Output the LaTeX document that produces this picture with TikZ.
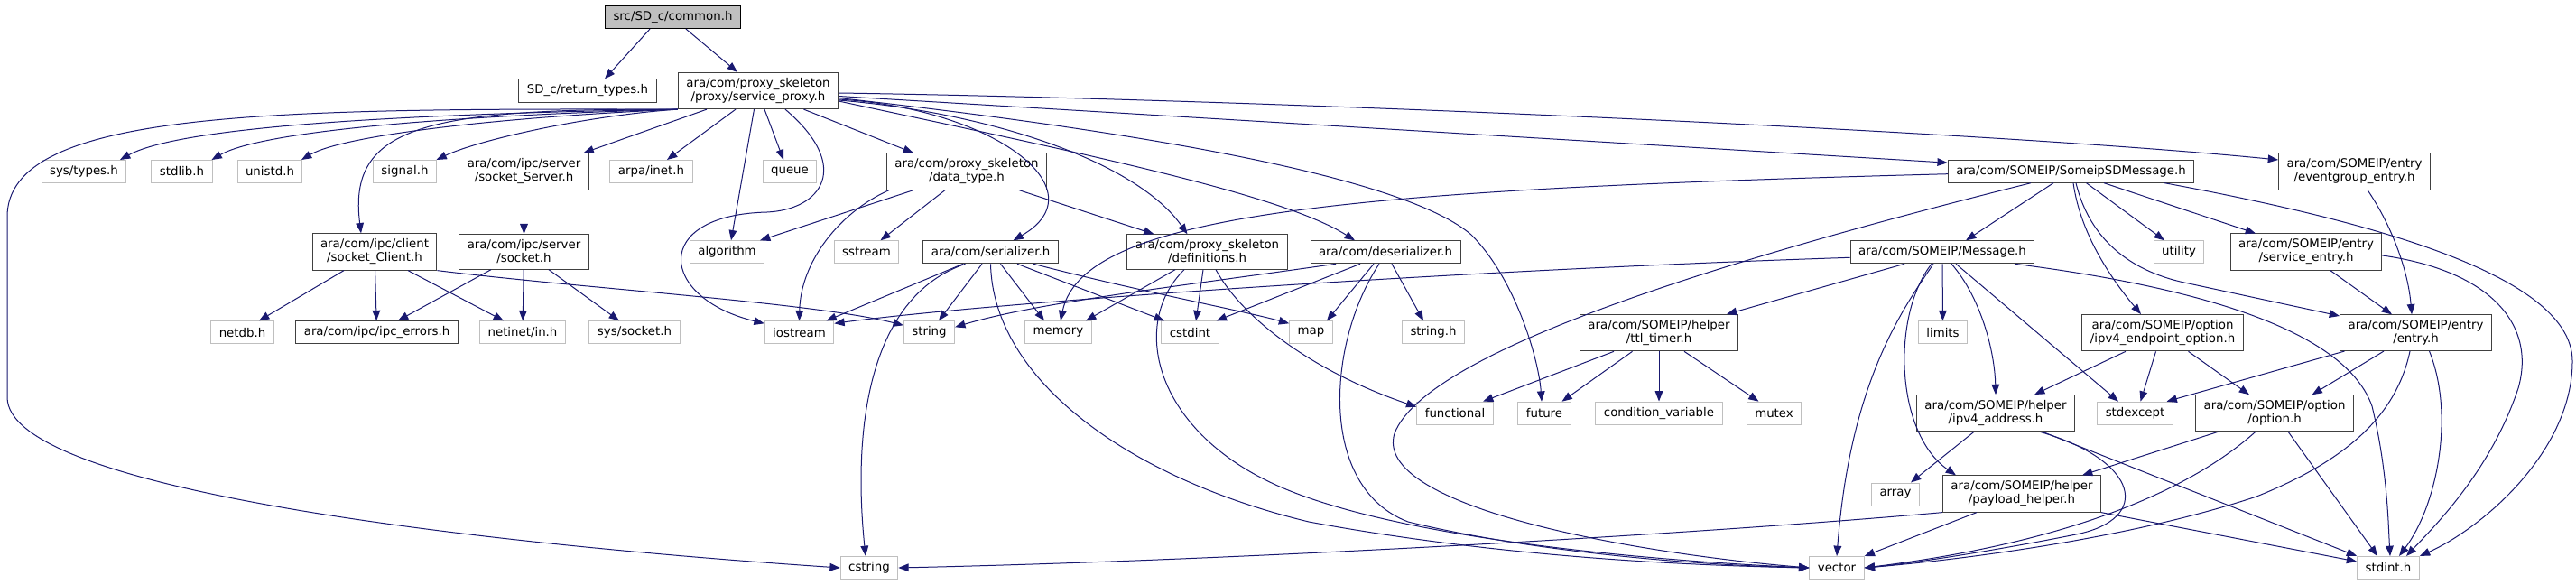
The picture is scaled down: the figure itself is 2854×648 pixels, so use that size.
\documentclass[tikz,border=0pt]{standalone}
\usepackage{fontspec}
\setmainfont{DejaVu Sans}
\usetikzlibrary{calc,arrows.meta}
\definecolor{edgeblue}{HTML}{191970}
\definecolor{docframe}{HTML}{404040}
\definecolor{sysgray}{HTML}{BFBFBF}

\begin{document}
\begin{tikzpicture}[x=0.75pt,y=-0.75pt,
  hdr/.style={draw=docframe, fill=white, line width=0.75pt, align=center,
    inner xsep=6.75pt, inner ysep=4.5pt, minimum height=18.75pt,
    font=\fontsize{10}{11.25}\selectfont},
  sys/.style={hdr, draw=sysgray},
  root/.style={hdr, fill=sysgray, draw=black},
  dep/.style={draw=edgeblue, line width=0.75pt, -{Triangle[length=8.5pt,width=6.5pt]}}]
  \useasboundingbox (0,0) rectangle (2854,648);

  % Row 0 and 1
  \node[root] (common) at (745.5,19) {src/SD\_c/common.h};
  \node[hdr] (rettypes) at (651,100.5) {SD\_c/return\_types.h};
  \node[hdr] (proxy) at (840,100.5) {ara/com/proxy\_skeleton\\/proxy/service\_proxy.h};

  % Row 2
  \node[sys] (systypes) at (93,190) {sys/types.h};
  \node[sys] (stdlib) at (201.5,190) {stdlib.h};
  \node[sys] (unistd) at (299,190) {unistd.h};
  \node[sys] (signal) at (448.5,190) {signal.h};
  \node[hdr] (sockserver) at (580.5,190) {ara/com/ipc/server\\/socket\_Server.h};
  \node[sys] (arpainet) at (721.5,190) {arpa/inet.h};
  \node[sys] (queue) at (875,190) {queue};
  \node[hdr] (datatype) at (1071,190) {ara/com/proxy\_skeleton\\/data\_type.h};
  \node[hdr] (someipsd) at (2294.5,189.7) {ara/com/SOMEIP/SomeipSDMessage.h};
  \node[hdr] (eventgroup) at (2608.5,190) {ara/com/SOMEIP/entry\\/eventgroup\_entry.h};

  % Row 3
  \node[hdr] (sockclient) at (415,279) {ara/com/ipc/client\\/socket\_Client.h};
  \node[hdr] (socket) at (580.5,279) {ara/com/ipc/server\\/socket.h};
  \node[sys] (algorithm) at (805.5,279.3) {algorithm};
  \node[sys] (sstream) at (960,279.3) {sstream};
  \node[hdr] (serializer) at (1097.5,279.3) {ara/com/serializer.h};
  \node[hdr] (definitions) at (1337.5,279) {ara/com/proxy\_skeleton\\/definitions.h};
  \node[hdr] (deserializer) at (1535,279.3) {ara/com/deserializer.h};
  \node[hdr] (message) at (2152,279.3) {ara/com/SOMEIP/Message.h};
  \node[sys] (utility) at (2414,279.3) {utility};
  \node[hdr] (serviceentry) at (2555,279) {ara/com/SOMEIP/entry\\/service\_entry.h};

  % Row 4
  \node[sys] (netdb) at (268.5,368.3) {netdb.h};
  \node[hdr] (ipcerrors) at (417.5,368.3) {ara/com/ipc/ipc\_errors.h};
  \node[sys] (netinet) at (579,368.3) {netinet/in.h};
  \node[sys] (syssocket) at (703,368.3) {sys/socket.h};
  \node[sys] (iostream) at (885.5,368.3) {iostream};
  \node[sys] (string) at (1029.5,368.3) {string};
  \node[sys] (memory) at (1172.5,368.3) {memory};
  \node[sys] (cstdint) at (1318.5,368.3) {cstdint};
  \node[sys] (map) at (1452.5,368.3) {map};
  \node[sys] (stringh) at (1588,368.3) {string.h};
  \node[hdr] (ttltimer) at (1838,368.7) {ara/com/SOMEIP/helper\\/ttl\_timer.h};
  \node[sys] (limits) at (2152.5,368.3) {limits};
  \node[hdr] (ipv4ep) at (2396,368.7) {ara/com/SOMEIP/option\\/ipv4\_endpoint\_option.h};
  \node[hdr] (entry) at (2676.5,368.7) {ara/com/SOMEIP/entry\\/entry.h};

  % Row 5
  \node[sys] (functional) at (1612,457.7) {functional};
  \node[sys] (future) at (1711,457.7) {future};
  \node[sys] (condvar) at (1838,457.7) {condition\_variable};
  \node[sys] (mutex) at (1965.5,457.7) {mutex};
  \node[hdr] (ipv4addr) at (2211,457.7) {ara/com/SOMEIP/helper\\/ipv4\_address.h};
  \node[sys] (stdexcept) at (2365.5,457.7) {stdexcept};
  \node[hdr] (option) at (2520,457.7) {ara/com/SOMEIP/option\\/option.h};

  % Row 6 and 7
  \node[sys] (array) at (2100,547.5) {array};
  \node[hdr] (payload) at (2240,547) {ara/com/SOMEIP/helper\\/payload\_helper.h};
  \node[sys] (cstring) at (963,629) {cstring};
  \node[sys] (vector) at (2035,629) {vector};
  \node[sys] (stdint) at (2646,629) {stdint.h};

  % common.h
  \draw[dep] ($(common.south)+(-25.5,0)$) -- ($(rettypes.north)+(19,0)$);
  \draw[dep] ($(common.south)+(14.5,0)$) -- ($(proxy.north)+(-23,0)$);

  % service_proxy.h, to the left
  \draw[dep] (proxy.south west) .. controls (300,120) and (8,122) .. (8,240) -- (8,440) .. controls (8,540) and (500,600) .. (cstring.west);
  \draw[dep] (proxy.south west) .. controls (450,126) and (200,140) .. ($(systypes.north)+(40,0)$);
  \draw[dep] (proxy.south west) .. controls (500,128) and (290,145) .. ($(stdlib.north)+(33,0)$);
  \draw[dep] (proxy.south west) .. controls (550,130) and (380,150) .. ($(unistd.north)+(35,0)$);
  \draw[dep] (proxy.south west) .. controls (470,120) and (385,140) .. ($(sockclient.north)+(-15,0)$);
  \draw[dep] (proxy.south west) .. controls (650,128) and (530,155) .. ($(signal.north)+(35,0)$);
  \draw[dep] ($(proxy.south)+(-57,0)$) -- ($(sockserver.north)+(66,0)$);
  \draw[dep] ($(proxy.south)+(-25,0)$) -- ($(arpainet.north)+(17.5,0)$);
  \draw[dep] ($(proxy.south)+(7,0)$) -- ($(queue.north)+(-7,0)$);
  \draw[dep] ($(proxy.south)+(-4.5,0)$) -- ($(algorithm.north)+(4.5,0)$);
  \draw[dep] ($(proxy.south)+(30,0)$) .. controls (945,185) and (910,232) .. (850,235) .. controls (720,238) and (730,330) .. ($(iostream.north west)+(0,3)$);
  \draw[dep] ($(proxy.south)+(50.5,0)$) -- ($(datatype.north)+(-59,0)$);

  % service_proxy.h, to the right
  \draw[dep] ($(proxy.east)+(0,9.5)$) .. controls (1100,120) and (1220,210) .. ($(serializer.north)+(25,0)$);
  \draw[dep] ($(proxy.east)+(0,10.5)$) .. controls (1100,125) and (1260,180) .. ($(definitions.north)+(-22,0)$);
  \draw[dep] ($(proxy.east)+(0,11.5)$) .. controls (1200,170) and (1420,215) .. ($(deserializer.north)+(-34,0)$);
  \draw[dep] ($(proxy.east)+(0,8)$) .. controls (1300,150) and (1560,200) .. (1630,260) .. controls (1680,310) and (1705,400) .. ($(future.north)+(-3,0)$);
  \draw[dep] ($(proxy.east)+(0,6)$) -- ($(someipsd.west)+(0,-9.5)$);
  \draw[dep] ($(proxy.east)+(0,2.5)$) .. controls (1400,110) and (2200,145) .. ($(eventgroup.west)+(0,-13)$);

  % ipc sockets
  \draw[dep] (sockserver) -- (socket);
  \draw[dep] ($(sockclient.south)+(-34,0)$) -- ($(netdb.north)+(18.5,0)$);
  \draw[dep] (sockclient) -- (ipcerrors);
  \draw[dep] ($(sockclient.south)+(37,0)$) -- ($(netinet.north)+(-21,0)$);
  \draw[dep] (sockclient.south east) .. controls (650,320) and (900,335) .. ($(string.west)+(0,-8)$);
  \draw[dep] ($(socket.south)+(-36.5,0)$) -- ($(ipcerrors.north)+(23.5,0)$);
  \draw[dep] (socket) -- (netinet);
  \draw[dep] ($(socket.south)+(27.5,0)$) -- ($(syssocket.north)+(-17,0)$);

  % data_type.h
  \draw[dep] ($(datatype.south)+(-59,0)$) -- ($(algorithm.north)+(36.5,0)$);
  \draw[dep] ($(datatype.south)+(-24,0)$) -- ($(sstream.north)+(15.5,0)$);
  \draw[dep] ($(datatype.south)+(-86,0)$) .. controls (930,235) and (887,290) .. (iostream.north);
  \draw[dep] ($(datatype.south)+(58,0)$) -- ($(definitions.north)+(-59,0)$);

  % serializer.h
  \draw[dep] ($(serializer.south)+(-30.5,0)$) -- ($(iostream.north)+(30,0)$);
  \draw[dep] ($(serializer.south)+(-9.5,0)$) -- ($(string.north)+(10.5,0)$);
  \draw[dep] ($(serializer.south)+(11,0)$) -- ($(memory.north)+(-15.5,0)$);
  \draw[dep] ($(serializer.south)+(29.5,0)$) -- ($(cstdint.north)+(-28.5,0)$);
  \draw[dep] ($(serializer.south)+(47.5,0)$) .. controls (1250,320) and (1380,345) .. ($(map.north west)+(0,3)$);
  \draw[dep] ($(serializer.south)+(-28,0)$) .. controls (960,330) and (945,480) .. ($(cstring.north)+(-4,0)$);
  \draw[dep] (serializer.south) .. controls (1100,420) and (1250,530) .. (1450,578) .. controls (1650,615) and (1850,626) .. (vector.west);

  % definitions.h
  \draw[dep] ($(definitions.south)+(-35.5,0)$) -- ($(memory.north)+(30.5,0)$);
  \draw[dep] ($(definitions.south)+(-4.5,0)$) -- ($(cstdint.north)+(6.5,0)$);
  \draw[dep] ($(definitions.south)+(9.5,0)$) .. controls (1375,350) and (1450,410) .. ($(functional.west)+(0,-7)$);
  \draw[dep] ($(definitions.south)+(-25.5,0)$) .. controls (1250,360) and (1280,480) .. (1420,540) .. controls (1560,600) and (1850,622) .. (vector.west);

  % deserializer.h
  \draw[dep] ($(deserializer.south)+(-55,0)$) .. controls (1300,318) and (1150,335) .. ($(string.east)+(0,-6)$);
  \draw[dep] ($(deserializer.south)+(-28,0)$) -- ($(cstdint.north east)+(-3,0)$);
  \draw[dep] ($(deserializer.south)+(-13,0)$) -- ($(map.north)+(17.5,0)$);
  \draw[dep] ($(deserializer.south)+(7,0)$) -- ($(stringh.north)+(-11,0)$);
  \draw[dep] ($(deserializer.south)+(-7,0)$) .. controls (1470,380) and (1460,540) .. (1560,578) .. controls (1700,612) and (1880,626) .. (vector.west);

  % SomeipSDMessage.h
  \draw[dep] ($(someipsd.west)+(0,3)$) .. controls (1500,210) and (1200,235) .. ($(memory.north)+(2.5,0)$);
  \draw[dep] ($(someipsd.south)+(-44.5,0)$) .. controls (1900,290) and (1580,390) .. (1545,480) .. controls (1520,560) and (1800,612) .. (vector.west);
  \draw[dep] ($(someipsd.south)+(-19.5,0)$) -- ($(message.north)+(26,0)$);
  \draw[dep] ($(someipsd.south)+(2.5,0)$) .. controls (2305,260) and (2340,310) .. ($(ipv4ep.north)+(-24,0)$);
  \draw[dep] ($(someipsd.south)+(5.5,0)$) .. controls (2315,265) and (2360,300) .. (2420,313) -- ($(entry.west)+(0,-18.7)$);
  \draw[dep] ($(someipsd.south)+(17,0)$) -- ($(utility.north)+(-16,0)$);
  \draw[dep] ($(someipsd.south)+(36.5,0)$) -- ($(serviceentry.north)+(-56,0)$);
  \draw[dep] ($(someipsd.south)+(103.5,0)$) .. controls (2600,240) and (2850,300) .. (2850,400) .. controls (2850,500) and (2750,585) .. (stdint.north east);

  % Message.h
  \draw[dep] ($(message.west)+(0,6)$) .. controls (1600,300) and (1100,335) .. ($(iostream.north east)+(0,3)$);
  \draw[dep] ($(message.south)+(-42,0)$) -- ($(ttltimer.north)+(75,0)$);
  \draw[dep] (message) -- (limits);
  \draw[dep] ($(message.south)+(-10,0)$) .. controls (2110,340) and (2050,420) .. (vector.north);
  \draw[dep] ($(message.south)+(-12,0)$) .. controls (2095,350) and (2100,480) .. ($(payload.north west)+(15,0)$);
  \draw[dep] ($(message.south)+(10,0)$) .. controls (2195,330) and (2210,390) .. (ipv4addr.north);
  \draw[dep] ($(message.south)+(15,0)$) -- ($(stdexcept.north)+(-18.5,0)$);
  \draw[dep] ($(message.south)+(80,0)$) .. controls (2450,320) and (2600,370) .. (2628,450) .. controls (2645,520) and (2646,580) .. ($(stdint.north)+(2,0)$);

  % ttl_timer.h
  \draw[dep] ($(ttltimer.south)+(-50,0)$) -- ($(functional.north)+(31,0)$);
  \draw[dep] ($(ttltimer.south)+(-29.5,0)$) -- ($(future.north)+(19.5,0)$);
  \draw[dep] (ttltimer) -- (condvar);
  \draw[dep] ($(ttltimer.south)+(28,0)$) -- ($(mutex.north)+(-17,0)$);

  % ipv4_endpoint_option.h
  \draw[dep] ($(ipv4ep.south)+(-41,0)$) -- ($(ipv4addr.north)+(43,0)$);
  \draw[dep] ($(ipv4ep.south)+(-7.5,0)$) -- ($(stdexcept.north)+(6,0)$);
  \draw[dep] ($(ipv4ep.south)+(28.5,0)$) -- ($(option.north)+(-28,0)$);

  % entry headers
  \draw[dep] ($(eventgroup.south)+(14.5,0)$) .. controls (2650,250) and (2668,300) .. ($(entry.north)+(-4.5,0)$);
  \draw[dep] ($(serviceentry.south)+(26.7,0)$) -- ($(entry.north)+(-26.5,0)$);
  \draw[dep] ($(serviceentry.east)+(0,4)$) .. controls (2760,300) and (2810,360) .. (2790,430) .. controls (2760,520) and (2700,580) .. ($(stdint.north)+(20,0)$);
  \draw[dep] ($(entry.south)+(-79,0)$) -- ($(stdexcept.north)+(35,0)$);
  \draw[dep] ($(entry.south)+(-35.5,0)$) -- ($(option.north)+(41.5,0)$);
  \draw[dep] ($(entry.south)+(-6.5,0)$) .. controls (2655,460) and (2600,510) .. (2500,550) .. controls (2350,600) and (2150,622) .. (vector.east);
  \draw[dep] ($(entry.south)+(15,0)$) .. controls (2720,460) and (2700,560) .. ($(stdint.north)+(12,0)$);

  % ipv4_address.h
  \draw[dep] ($(ipv4addr.south)+(-24,0)$) -- ($(array.north)+(17,0)$);
  \draw[dep] ($(ipv4addr.south)+(49,0)$) .. controls (2370,510) and (2385,575) .. (2300,592) .. controls (2200,612) and (2110,625) .. (vector.east);
  \draw[dep] ($(ipv4addr.south)+(52,0)$) -- (stdint.north west);

  % option.h
  \draw[dep] ($(option.south)+(-62,0)$) -- ($(payload.north)+(67,0)$);
  \draw[dep] ($(option.south)+(-21,0)$) .. controls (2430,540) and (2300,600) .. (vector.east);
  \draw[dep] ($(option.south)+(15,0)$) -- ($(stdint.north)+(-12,0)$);

  % payload_helper.h
  \draw[dep] (payload.south west) .. controls (1900,590) and (1400,620) .. (cstring.east);
  \draw[dep] ($(payload.south)+(-50,0)$) -- (vector.north east);
  \draw[dep] (payload.south east) -- ($(stdint.west)+(0,-7)$);
\end{tikzpicture}
\end{document}
